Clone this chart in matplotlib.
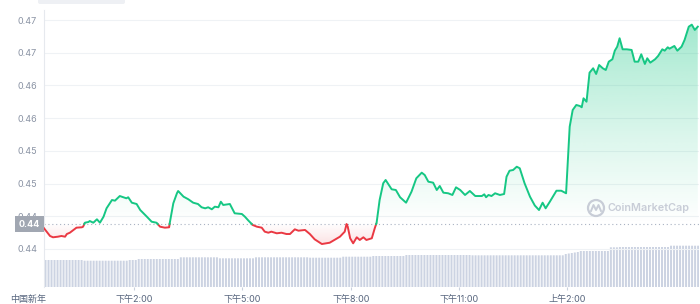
import numpy as np
import matplotlib
matplotlib.use("Agg")
import matplotlib.pyplot as plt
from matplotlib.path import Path
from matplotlib.patches import PathPatch, Circle, FancyBboxPatch
from matplotlib.lines import Line2D
from matplotlib.colors import to_rgb
from matplotlib.transforms import IdentityTransform, blended_transform_factory

plt.rcParams['font.family'] = ['Inter', 'Noto Sans CJK SC', 'DejaVu Sans']

# ---------------- data (minutes after 11:30) ----------------
minutes = [0, 10, 15, 23, 29, 35, 38, 43, 49, 54, 63, 65, 68, 74, 76, 82, 88, 93, 99, 104,
           113, 118, 126, 132, 137, 140, 146, 154, 160, 171, 179, 187, 193, 201, 208, 209, 215, 221, 223, 232,
           240, 248, 256, 262, 268, 273, 279, 284, 290, 294, 298, 309, 317, 329, 334, 340, 347, 354, 362, 367,
           373, 378, 387, 395, 403, 409, 417, 423, 434, 442, 450, 462, 475, 492, 500, 503, 505, 509, 514, 520,
           525, 531, 536, 545, 550, 553, 558, 564, 568, 578, 585, 592, 602, 611, 619, 628, 633, 639, 647, 653,
           658, 664, 672, 679, 685, 692, 700, 708, 717, 728, 732, 735, 739, 744, 750, 758, 765, 769, 774, 780,
           786, 791, 799, 808, 816, 823, 829, 834, 841, 852, 860, 868, 871, 874, 879, 885, 891, 894, 897, 902,
           907, 913, 918, 923, 929, 934, 939, 945, 949, 953, 957, 962, 969, 977, 982, 988, 993, 999, 1003, 1008,
           1016, 1021, 1028, 1032, 1037, 1040, 1048, 1053, 1060, 1065, 1072, 1077, 1082, 1087]
prices = [0.44317, 0.44199, 0.44179, 0.44188, 0.44199, 0.44188, 0.44229, 0.44249, 0.44291, 0.44326,
          0.44332, 0.44341, 0.44402, 0.44413, 0.44428, 0.44402, 0.44454, 0.44402, 0.44494, 0.44622,
          0.44749, 0.44739, 0.44810, 0.44791, 0.44775, 0.44791, 0.44708, 0.44688, 0.44596, 0.44494,
          0.44417, 0.44402, 0.44341, 0.44326, 0.44332, 0.44393, 0.44699, 0.44852, 0.44887, 0.44800,
          0.44760, 0.44708, 0.44688, 0.44638, 0.44622, 0.44638, 0.44607, 0.44647, 0.44638, 0.44723,
          0.44673, 0.44688, 0.44546, 0.44535, 0.44494, 0.44433, 0.44367, 0.44341, 0.44326, 0.44265,
          0.44249, 0.44265, 0.44240, 0.44249, 0.44229, 0.44229, 0.44301, 0.44280, 0.44291, 0.44229,
          0.44148, 0.44076, 0.44096, 0.44188, 0.44265, 0.44382, 0.44341, 0.44164, 0.44087, 0.44179,
          0.44138, 0.44179, 0.44138, 0.44164, 0.44320, 0.44402, 0.44749, 0.45005, 0.45055, 0.44913,
          0.44902, 0.44791, 0.44708, 0.44876, 0.45081, 0.45167, 0.45131, 0.45029, 0.45014, 0.44902,
          0.44963, 0.44861, 0.44852, 0.44826, 0.44943, 0.44902, 0.44826, 0.44887, 0.44810, 0.44810,
          0.44836, 0.44791, 0.44826, 0.44810, 0.44852, 0.44826, 0.44841, 0.45105, 0.45197, 0.45208,
          0.45258, 0.45234, 0.45005, 0.44800, 0.44665, 0.44596, 0.44708, 0.44622, 0.44723, 0.44891,
          0.44891, 0.44852, 0.45361, 0.45870, 0.46125, 0.46202, 0.46186, 0.46167, 0.46304, 0.46252,
          0.46696, 0.46763, 0.46676, 0.46813, 0.46763, 0.46737, 0.46864, 0.46901, 0.47032, 0.47093,
          0.47222, 0.47053, 0.47053, 0.47043, 0.46864, 0.46864, 0.46977, 0.46829, 0.46916, 0.46849,
          0.46901, 0.46951, 0.47053, 0.47032, 0.47084, 0.47063, 0.47104, 0.47032, 0.47093, 0.47196,
          0.47399, 0.47430, 0.47349, 0.47399]
baseline = 0.44382
current_label = "0.44"

# 24h volume (M) per 5-minute bar, grouped by equal-height runs
vol_levels = [27.0, 26.3, 27.0, 28.0, 29.7, 28.7, 29.7, 29.3, 30.3, 31.0, 32.0, 31.7,
              33.0, 33.5, 34.0, 34.5, 35.0, 36.0, 39.7, 40.0, 41.3]
vol_counts = [13, 15, 3, 14, 13, 12, 18, 11, 10, 11, 22, 31,
              1, 1, 1, 1, 1, 10, 3, 17, 10]

ytick_vals = [0.44, 0.445, 0.45, 0.455, 0.46, 0.465, 0.47, 0.475]
ytick_labels = ["0.44", "0.44", "0.45", "0.45", "0.46", "0.46", "0.47", "0.47"]
xtick_vals = [150, 330, 510, 690, 870]
xtick_labels = ["下午2:00", "下午5:00", "下午8:00", "下午11:00", "上午2:00"]
first_label = "中国新年"
first_label_pos = -27

GREEN = '#16c784'
RED = '#ea3943'

# ---------------- figure ----------------
W, H = 700, 304
fig = plt.figure(figsize=(W / 100, H / 100), dpi=100)
ax = fig.add_axes([44 / W, 17 / H, 655 / W, 277 / H])
ax2 = ax.twinx()
ax.set_zorder(2)
ax2.set_zorder(1)
ax.patch.set_visible(False)

XMIN, XMAX = 0, 1089
YMIN, YMAX = 0.43419, 0.47654

# volume bars
vol = np.repeat(vol_levels, vol_counts)
vt = np.arange(len(vol)) * 5 + 2.5
bars = ax2.bar(vt, vol, width=3.3, color='#ccd3e2', linewidth=0)
for b in bars:
    b.set_snap(False)
ax2.set_ylim(0, 277)
ax2.set_xlim(XMIN, XMAX)
ax2.axis('off')

# split line at baseline crossings
t = np.array(minutes, float)
p = np.array(prices, float)
tt, pp = [t[0]], [p[0]]
for i in range(1, len(t)):
    a = p[i - 1] - baseline
    b = p[i] - baseline
    if a * b < 0:
        f = a / (a - b)
        tt.append(t[i - 1] + f * (t[i] - t[i - 1]))
        pp.append(baseline)
    tt.append(t[i])
    pp.append(p[i])
tt = np.array(tt)
pp = np.array(pp)


def grad_fill(mask, color, y_top, y_bot, a_top, a_bot, gamma=1.0):
    coll = ax.fill_between(tt, pp, baseline, where=mask, facecolor='none',
                           edgecolor='none', linewidth=0)
    paths = [pth for pth in coll.get_paths() if len(pth.vertices) > 2]
    if not paths:
        return
    comp = Path.make_compound_path(*paths)
    patch = PathPatch(comp, transform=ax.transData, facecolor='none', edgecolor='none')
    ax.add_patch(patch)
    n = 256
    s = np.linspace(0, 1, n) ** gamma
    rgba = np.zeros((n, 1, 4))
    rgba[..., :3] = to_rgb(color)
    rgba[:, 0, 3] = a_top + (a_bot - a_top) * s
    im = ax.imshow(rgba, extent=[XMIN, XMAX, y_bot, y_top], origin='upper',
                   aspect='auto', zorder=1, interpolation='bilinear')
    im.set_clip_path(patch)


grad_fill(pp >= baseline, GREEN, 0.4765, baseline, 0.45, 0.0, gamma=0.8)
grad_fill(pp <= baseline, RED, baseline, 0.4395, 0.0, 0.2)

green = np.where(pp >= baseline, pp, np.nan)
red = np.where(pp <= baseline, pp, np.nan)
ax.plot(tt, red, color=RED, lw=1.4, zorder=3, solid_joinstyle='round')
ax.plot(tt, green, color=GREEN, lw=1.4, zorder=3, solid_joinstyle='round')

ax.axhline(baseline, color='#a9b2c2', lw=0.8, ls=(0, (1, 2.5)), zorder=1.5)

ax.set_xlim(XMIN, XMAX)
ax.set_ylim(YMIN, YMAX)

# axes styling
ax.set_yticks(ytick_vals, ytick_labels)
ax.set_xticks(xtick_vals, xtick_labels)
ax.grid(axis='y', color='#eff2f5', lw=0.8, zorder=0)
ax.set_axisbelow(True)
for s in ['top', 'right', 'bottom']:
    ax.spines[s].set_visible(False)
ax.spines['left'].set_color('#e6e9ee')
ax.spines['left'].set_linewidth(0.8)
ax.tick_params(axis='y', length=0, pad=5, labelsize=6.5, labelcolor='#8a93a4')
ax.tick_params(axis='x', length=2.5, width=0.8, color='#c9d0dc', pad=3,
               labelsize=6.5, labelcolor='#58667e')

ax.text(first_label_pos, -7.6 / 277, first_label, transform=ax.get_xaxis_transform(),
        ha='center', va='top', fontsize=6.5, color='#58667e', clip_on=False)

# current price label
ax.text(-0.0065, baseline, current_label,
        transform=blended_transform_factory(ax.transAxes, ax.transData),
        ha='right', va='center', color='white', fontsize=6.5, fontweight='bold',
        bbox=dict(boxstyle='square,pad=0.42', fc='#a1a7b2', ec='none'),
        zorder=6, clip_on=False)

# watermark
wm_color = '#c8cdd7'
fig.text(607 / W, (H - 208) / H, "CoinMarketCap", ha='left', va='center',
         fontsize=7.8, color=wm_color, fontweight='semibold', zorder=10)
fig.add_artist(Circle((596, H - 208), 8, transform=IdentityTransform(),
                      fill=False, ec=wm_color, lw=1.6, zorder=10))
fig.add_artist(Line2D([591, 593.5, 596, 598.5, 601], [H - 211, H - 205, H - 210, H - 205, H - 211],
                      transform=IdentityTransform(), color=wm_color, lw=1.4, zorder=10))

# top-left UI remnant
fig.add_artist(FancyBboxPatch((38, H - 4), 87, 6, boxstyle='round,pad=0,rounding_size=2',
                              transform=IdentityTransform(), fc='#eef0f4', ec='none'))

fig.savefig('out.png', dpi=100, facecolor='white')
